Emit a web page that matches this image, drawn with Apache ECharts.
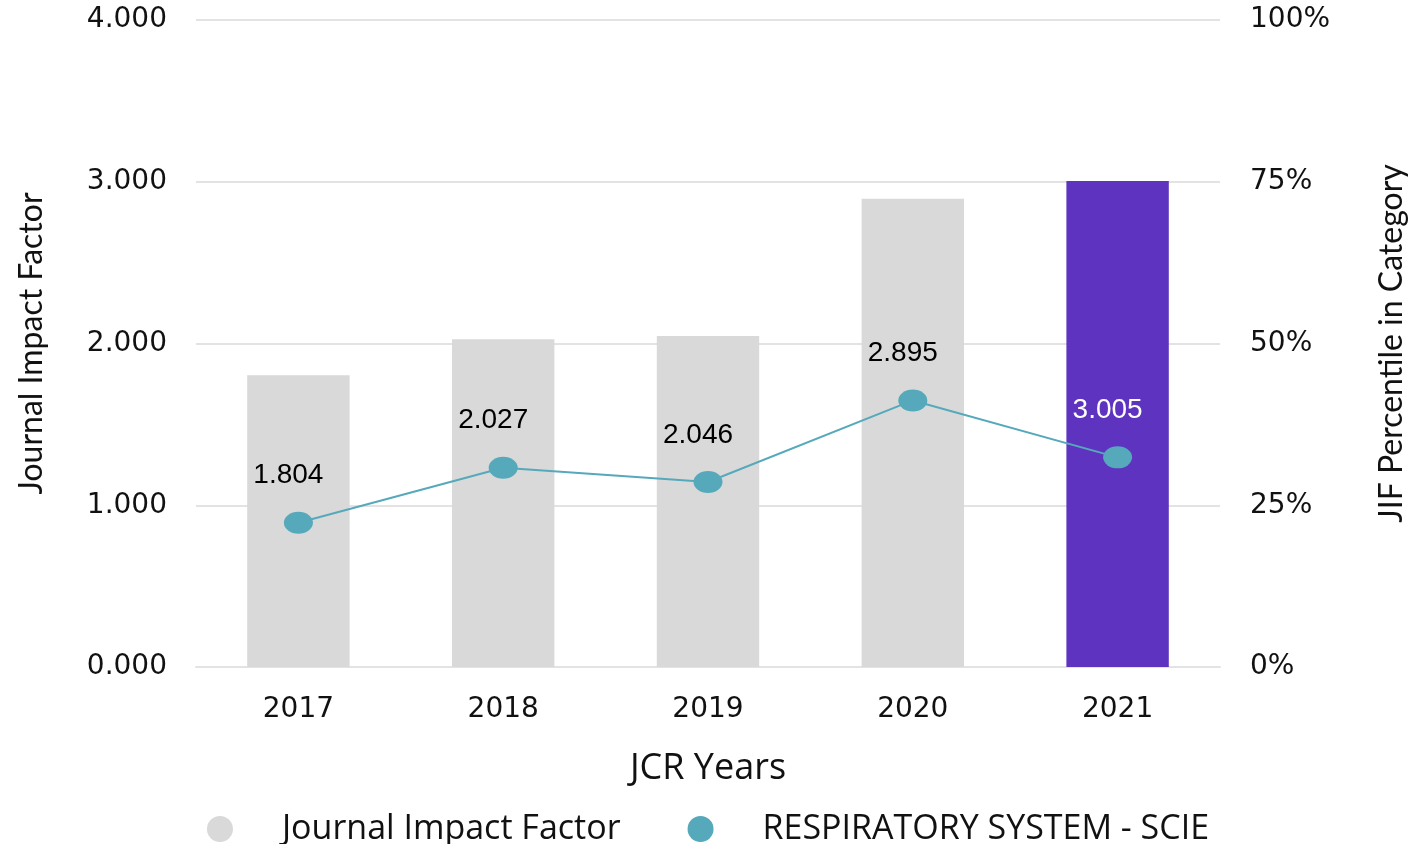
<!DOCTYPE html>
<html>
<head>
<meta charset="utf-8">
<script src="https://cdn.jsdelivr.net/npm/echarts@6/dist/echarts.min.js"></script>
<style>html,body{margin:0;padding:0;background:#fff}#c{width:1416px;height:844px}</style>
</head>
<body>
<div id="c"></div>
<script>
const years = ['2017', '2018', '2019', '2020', '2021'];
const jif = [1.804, 2.027, 2.046, 2.895, 3.005];
const percentile = [22.3, 30.8, 28.6, 41.2, 32.4];
const leftTicks = [0, 1, 2, 3, 4];
const rightTicks = [0, 25, 50, 75, 100];

const chart = echarts.init(document.getElementById('c'));
const tickFont = 'DejaVu Sans';
const titleFont = 'Lato';
const legendFont = 'Open Sans';
const barColors = years.map((y, i) => i === years.length - 1 ? '#5e33bf' : '#d9d9d9');

chart.setOption({
  animation: false,
  backgroundColor: '#fff',
  grid: { left: 196, right: 193, top: 20, bottom: 177 },
  legend: {
    top: 812,
    left: 'center',
    padding: 0,
    itemWidth: 32,
    itemHeight: 26,
    itemGap: 67,
    icon: 'circle',
    textStyle: { fontFamily: legendFont, fontSize: 34, lineHeight: 26, color: '#111', padding: [0, 0, 0, 41] },
    data: ['Journal Impact Factor', 'RESPIRATORY SYSTEM - SCIE']
  },
  xAxis: {
    type: 'category',
    data: years,
    name: 'JCR Years',
    nameLocation: 'middle',
    nameGap: 84,
    nameTextStyle: { fontFamily: legendFont, fontSize: 36, color: '#111' },
    axisLine: { show: true, lineStyle: { color: '#e3e3e3', width: 2 } },
    axisTick: { show: false },
    axisLabel: { fontFamily: tickFont, fontSize: 28, color: '#111', margin: 29 }
  },
  yAxis: [
    {
      type: 'value',
      min: leftTicks[0],
      max: leftTicks[leftTicks.length - 1],
      interval: 1,
      name: 'Journal Impact Factor',
      nameLocation: 'middle',
      nameGap: 148,
      nameTextStyle: { fontFamily: titleFont, fontSize: 32, color: '#111' },
      axisLine: { show: false },
      axisTick: { show: false },
      splitLine: { lineStyle: { color: '#e3e3e3', width: 2 } },
      axisLabel: { fontFamily: tickFont, fontSize: 28, color: '#111', margin: 29, formatter: v => v.toFixed(3) }
    },
    {
      type: 'value',
      min: rightTicks[0],
      max: rightTicks[rightTicks.length - 1],
      interval: 25,
      name: 'JIF Percentile in Category',
      nameLocation: 'middle',
      nameGap: 156,
      nameRotate: 90,
      nameTextStyle: { fontFamily: titleFont, fontSize: 32, color: '#111' },
      axisLine: { show: false },
      axisTick: { show: false },
      splitLine: { show: false },
      axisLabel: { fontFamily: tickFont, fontSize: 28, color: '#111', margin: 30, formatter: v => v + '%' }
    }
  ],
  series: [
    {
      name: 'Journal Impact Factor',
      type: 'bar',
      barWidth: '50%',
      yAxisIndex: 0,
      itemStyle: { color: '#d9d9d9' },
      data: jif.map((v, i) => ({ value: v, itemStyle: { color: barColors[i] } }))
    },
    {
      name: 'RESPIRATORY SYSTEM - SCIE',
      type: 'line',
      yAxisIndex: 1,
      symbol: 'circle',
      symbolSize: [29, 22],
      itemStyle: { color: '#55a9bb' },
      lineStyle: { color: '#55a9bb', width: 2 },
      label: {
        show: true,
        position: 'top',
        distance: 22,
        offset: [-10, 0],
        fontFamily: 'Liberation Sans',
        fontSize: 28,
        formatter: p => jif[p.dataIndex].toFixed(3)
      },
      data: percentile.map((v, i) => ({
        value: v,
        label: { color: i === years.length - 1 ? '#ffffff' : '#000000' }
      }))
    }
  ]
});
</script>
</body>
</html>
